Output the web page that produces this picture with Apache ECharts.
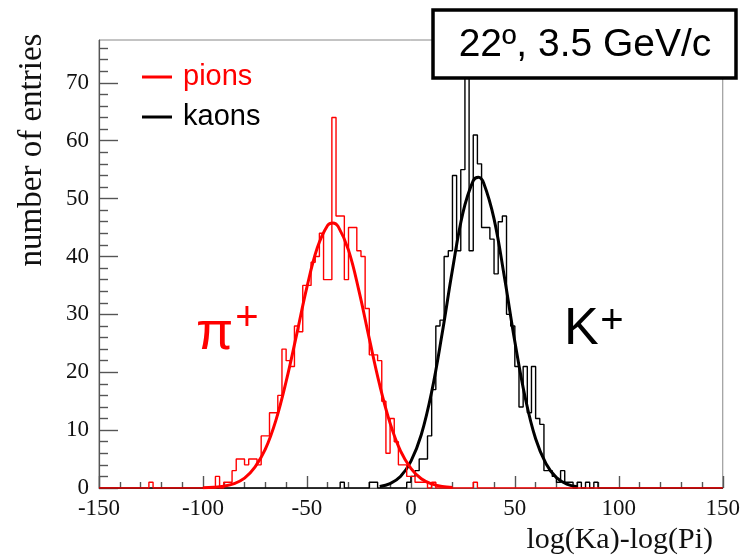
<!DOCTYPE html>
<html><head><meta charset="utf-8">
<script src="https://cdn.jsdelivr.net/npm/echarts@6/dist/echarts.min.js"></script>
<style>html,body{margin:0;padding:0;background:#fff}#c{width:743px;height:558px}</style>
</head><body><div id="c"></div>
<script>
// ---- data ----
const binStart = -150, binWidth = 2;
const pionCounts = [
  0,0,0,0,0,0,0,0,0,0,
  0,0,1,0,0,0,0,0,0,0,
  0,0,0,0,0,0,0,0,2,0,
  1,1,3,5,5,4,5,5,4,9,
  9,13,13,16,24,22,21,28,27,35,
  35,39,40,44,36,36,64,47,47,36,
  45,45,41,40,31,23,23,22,15,6,
  12,8,4,4,2,2,1,1,1,0,
  1,0,0,0,0,0,0,0,0,0,
  1,0,0,0,0,0,0,0,0,0,
  0,0,0,0,0,0,0,0,0,0,
  0,0,0,0,0,0,0,0,0,0,
  0,0,0,0,0,0,0,0,0,0,
  0,0,0,0,0,0,0,0,0,0,
  0,0,0,0,0,0,0,0,0,0
];
const kaonCounts = [
  0,0,0,0,0,0,0,0,0,0,
  0,0,0,0,0,0,0,0,0,0,
  0,0,0,0,0,0,0,0,0,0,
  0,0,0,0,0,0,0,0,0,0,
  0,0,0,0,0,0,0,0,0,0,
  0,0,0,0,0,0,0,0,1,0,
  0,0,0,0,0,1,1,0,0,0,
  0,0,0,0,1,2,3,5,5,9,
  17,28,29,40,41,54,41,55,74,41,
  61,56,45,45,43,37,46,47,30,28,
  21,14,21,13,21,12,11,3,3,2,
  1,3,1,1,0,1,0,1,0,1,
  0,0,0,0,0,0,0,0,0,0,
  0,0,0,0,0,0,0,0,0,0,
  0,0,0,0,0,0,0,0,0,0
];
const pionFitX = [-100,-95,-90,-85,-80,-75,-70,-65,-60,-55,-50,-45,-40,-37.5,-35,-30,-25,-20,-15,-10,-5,0,5,10,15,20];
const pionFitY = [0.04,0.11,0.3,0.75,1.7,3.6,6.7,11.6,18.4,26.4,34.7,41.5,45.4,45.8,45.2,41.1,34.1,25.8,17.8,11.2,6.4,3.4,1.6,0.7,0.28,0.1];
const kaonFitX = [-15,-10,-5,0,5,10,15,20,25,30,32.5,35,40,45,50,55,60,65,70,75,80];
const kaonFitY = [0.27,0.77,2.0,4.6,9.2,16.6,26.6,37.7,47.5,53.1,53.7,52.7,46.5,36.4,25.3,15.6,8.5,4.2,1.8,0.69,0.24];
const xTickInterval = 50;
const yTickValues = [0,10,20,30,40,50,60,70];
const yMinorTickValues = [2,4,6,8,12,14,16,18,22,24,26,28,32,34,36,38,42,44,46,48,52,54,56,58,62,64,66,68,72,74,76];
const xMin = -150, xMax = 150, yMin = 0, yMax = 77.4;
const seriesNames = ['pions','kaons'];
const xTitle = 'log(Ka)-log(Pi)';
const yTitle = 'number of entries';
const boxText = '22º, 3.5 GeV/c';

// ---- build ----
function histData(counts){
  const d = counts.map((c,i)=>[binStart+i*binWidth, c]);
  d.push([binStart+counts.length*binWidth, counts[counts.length-1]]);
  return d;
}
function pairs(xs, ys){ return xs.map((x,i)=>[x, ys[i]]); }

const RED = '#ff0000', BLK = '#000000', AX = '#555555';
const serif = '"Liberation Serif", "Times New Roman", serif';
const sans = '"Liberation Sans", Arial, sans-serif';

const chart = echarts.init(document.getElementById('c'), null, {renderer:'canvas'});
chart.setOption({
  animation: false,
  backgroundColor: '#fff',
  grid: {left:99, top:40, right:19, bottom:70, show:true, borderColor:'#888', borderWidth:1, backgroundColor:'transparent'},
  legend: {
    orient:'vertical', left:142, top:62, padding:0,
    itemWidth:30, itemHeight:3, itemGap:10, icon:'rect', selectedMode:false,
    textStyle:{fontFamily:sans, fontSize:29, lineHeight:30, padding:[0,0,0,6]},
    data:[{name:seriesNames[0], textStyle:{color:RED}}, {name:seriesNames[1], textStyle:{color:BLK}}]
  },
  xAxis: {
    type:'value', min:xMin, max:xMax, interval:xTickInterval,
    axisLine:{show:true, onZero:false, lineStyle:{color:AX, width:1}},
    axisTick:{show:true, inside:true, length:12, lineStyle:{color:AX, width:1.4}},
    minorTick:{show:true, splitNumber:5, length:6, lineStyle:{color:AX, width:1.4}},
    splitLine:{show:false}, minorSplitLine:{show:false},
    axisLabel:{show:true, fontFamily:serif, fontSize:23, color:'#111', margin:9}
  },
  yAxis: [{
    type:'value', min:yMin, max:yMax,
    axisLine:{show:true, onZero:false, lineStyle:{color:AX, width:1.2}},
    axisTick:{show:true, inside:true, length:19, lineStyle:{color:AX, width:1.4}, customValues:yTickValues},
    splitLine:{show:false},
    axisLabel:{fontFamily:serif, fontSize:23, color:'#111', margin:10, customValues:yTickValues}
  },{
    type:'value', min:yMin, max:yMax, position:'left',
    axisLine:{show:false, onZero:false},
    axisTick:{show:true, inside:true, length:9, lineStyle:{color:AX, width:1.4}, customValues:yMinorTickValues},
    axisLabel:{show:false}, splitLine:{show:false}
  }],
  series: [
    {name:seriesNames[1], type:'line', step:'end', data:histData(kaonCounts), symbol:'none', color:BLK,
     lineStyle:{color:BLK, width:1.4}, silent:true, z:2},
    {name:'kaon fit', type:'line', smooth:0.4, data:pairs(kaonFitX,kaonFitY), symbol:'none', color:BLK,
     lineStyle:{color:BLK, width:3}, silent:true, z:3},
    {name:seriesNames[0], type:'line', step:'end', data:histData(pionCounts), symbol:'none', color:RED,
     lineStyle:{color:RED, width:1.4}, silent:true, z:4},
    {name:'pion fit', type:'line', smooth:0.4, data:pairs(pionFitX,pionFitY), symbol:'none', color:RED,
     lineStyle:{color:RED, width:3}, silent:true, z:5}
  ],
  graphic: [
    {type:'text', x:32, y:150, rotation:Math.PI/2, z:50,
     style:{text:yTitle, x:0, y:0, font:'33px '+serif, fill:'#111', align:'center', verticalAlign:'middle', textAlign:'center', textVerticalAlign:'middle'}},
    {type:'text', x:713, y:540, z:50,
     style:{text:xTitle, x:0, y:0, font:'30px '+serif, fill:'#111', align:'right', verticalAlign:'middle', textAlign:'right', textVerticalAlign:'middle'}},
    {type:'rect', z:100, shape:{x:433, y:10, width:303, height:68},
     style:{fill:'#fff', stroke:'#000', lineWidth:3.5}},
    {type:'text', x:585, y:45, z:101,
     style:{text:boxText, x:0, y:0, font:'39px '+sans, fill:'#000', align:'center', verticalAlign:'middle', textAlign:'center', textVerticalAlign:'middle'}},
    {type:'text', x:196, y:334, z:50,
     style:{text:'π', x:0, y:0, font:'54px '+sans, fill:RED, align:'left', verticalAlign:'middle', textAlign:'left', textVerticalAlign:'middle'}},
    {type:'text', x:247, y:319, z:50,
     style:{text:'+', x:0, y:0, font:'40px '+sans, fill:RED, align:'center', verticalAlign:'middle', textAlign:'center', textVerticalAlign:'middle'}},
    {type:'text', x:564, y:330, z:50,
     style:{text:'K', x:0, y:0, font:'52px '+sans, fill:BLK, align:'left', verticalAlign:'middle', textAlign:'left', textVerticalAlign:'middle'}},
    {type:'text', x:612, y:322, z:50,
     style:{text:'+', x:0, y:0, font:'40px '+sans, fill:BLK, align:'center', verticalAlign:'middle', textAlign:'center', textVerticalAlign:'middle'}}
  ]
});
</script></body></html>
